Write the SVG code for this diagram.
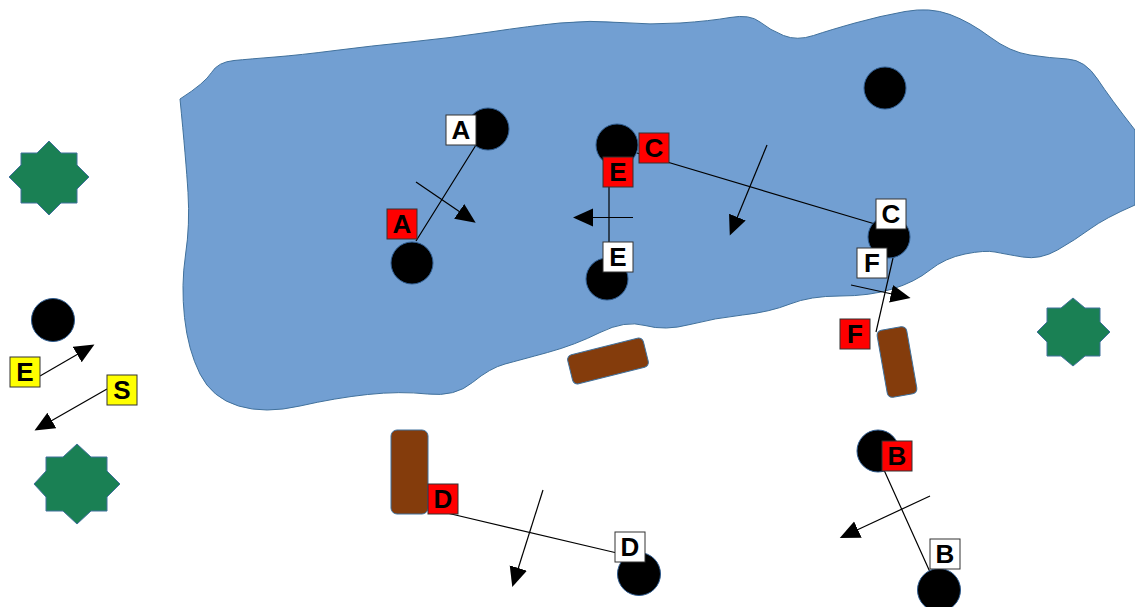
<svg xmlns="http://www.w3.org/2000/svg" width="1135" height="607" viewBox="0 0 1135 607">
<style>
.c{fill:#000;stroke:#2f5c8f;stroke-width:1}
.b{fill:#843c0c;stroke:#41719c;stroke-width:1}
.g{fill:#1a8054;stroke:#41719c;stroke-width:1}
.l{stroke:#000;stroke-width:1.2;fill:none}
.a{stroke:#000;stroke-width:1.2;fill:none;marker-end:url(#m)}
.w,.r,.y{stroke:#333;stroke-width:1}
.w{fill:#fff}.r{fill:#f00}.y{fill:#ff0}
text{font-family:"Liberation Sans",Arial,sans-serif;font-size:26px;font-weight:bold;text-anchor:middle;fill:#000}
</style>
<defs>
<marker id="m" markerUnits="userSpaceOnUse" markerWidth="22" markerHeight="20" refX="1" refY="9" orient="auto"><path d="M0 0L20 9L0 18Z" fill="#000"/></marker>
</defs>
<g id="lake"><path d="M180 99Q205 83 211.500 72.500Q218 62 234 60.500Q250 59 275 57Q300 55 335 50.500Q370 46 410 42Q450 38 490 32Q530 26 560 23Q590 20 620 22.500Q650 25 680 23Q710 21 730 17.500Q750 14 760 22Q770 30 783.500 35.500Q797 41 813.500 35.500Q830 30 855 23Q880 16 905 11.500Q930 7 950 14.500Q970 22 990 37Q1010 52 1030 55Q1050 58 1067.500 59Q1085 60 1097.500 79Q1110 98 1135 130L1135 205Q1105 218 1090 229Q1075 240 1057.500 250Q1040 260 1022.500 257Q1005 254 995 252Q985 250 965 254Q945 258 930 270Q915 282 892.500 289Q870 296 840 296Q810 296 790 304Q770 312 742.500 315Q715 318 690 324.500Q665 331 645 325.500Q625 320 600 332.500Q575 345 547.500 352.500Q520 360 505 364Q490 368 472.500 382.500Q455 397 427.500 394Q400 391 367.500 394.500Q335 398 300 406Q265 414 238.500 406Q212 398 200 374Q188 350 184.500 317.500Q181 285 185.500 255Q190 225 188 192.500Q186 160 180 99Z" fill="#729fd2" stroke="#41719c" stroke-width="1"/></g>
<g id="connectors">
<path class="l" d="M476 145L416 241M637 153L875 224M609 172V258M893 258L876 332M884 470L930 572M447 513L617 553"/>
<path class="a" d="M416 182L460 212"/>
<path class="a" d="M633 217.500H592"/>
<path class="a" d="M767 145L737 218"/>
<path class="a" d="M851 285L892 294"/>
<path class="a" d="M930 496L857 530"/>
<path class="a" d="M543 490L518 569"/>
<path class="a" d="M40 376L78 354"/>
<path class="a" d="M107 389L51 421"/>
</g>
<g id="c1"><circle class="c" cx="488" cy="129" r="21"/></g>
<g id="c2"><circle class="c" cx="617" cy="145" r="21"/></g>
<g id="c3"><circle class="c" cx="885" cy="88" r="21"/></g>
<g id="c4"><circle class="c" cx="889" cy="237" r="21"/></g>
<g id="c5"><circle class="c" cx="412" cy="263" r="21"/></g>
<g id="c6"><circle class="c" cx="607" cy="279" r="21"/></g>
<g id="c7"><circle class="c" cx="53" cy="320" r="21.500"/></g>
<g id="c8"><circle class="c" cx="878" cy="451" r="21"/></g>
<g id="c9"><circle class="c" cx="639" cy="574" r="21.500"/></g>
<g id="c10"><circle class="c" cx="939" cy="590" r="21.500"/></g>
<g id="b1"><rect class="b" x="-39" y="-15" width="78" height="30" rx="5" transform="translate(608 361) rotate(-14)"/></g>
<g id="b2"><rect class="b" x="-15" y="-34" width="30" height="68" rx="5" transform="translate(897 362) rotate(-10)"/></g>
<g id="b3"><rect class="b" x="391" y="430" width="37" height="84" rx="6"/></g>
<g id="s1"><path class="g" d="M49 141L61 153H77V165L89 177L77 189V203H61L49 215L37 203H21V189L9 177L21 165V153H37Z"/></g>
<g id="s2"><path class="g" d="M1073 298L1085 308H1100V322L1110 332L1100 342V356H1085L1073 366L1061 356H1047V342L1037 332L1047 322V308H1061Z"/></g>
<g id="s3"><path class="g" d="M77 444L91 457H107V471L120 484L107 497V511H91L77 524L63 511H46V497L34 484L46 471V457H63Z"/></g>
<g id="lA"><rect class="w" x="446" y="115" width="30" height="30"/><text x="461" y="139">A</text></g>
<g id="lAr"><rect class="r" x="387" y="209" width="30" height="30"/><text x="402" y="233">A</text></g>
<g id="lCr"><rect class="r" x="639" y="133" width="30" height="30"/><text x="654" y="157">C</text></g>
<g id="lEr"><rect class="r" x="603" y="157" width="30" height="30"/><text x="618" y="181">E</text></g>
<g id="lE"><rect class="w" x="603" y="242" width="30" height="30"/><text x="618" y="266">E</text></g>
<g id="lC"><rect class="w" x="876" y="199" width="30" height="30"/><text x="891" y="223">C</text></g>
<g id="lF"><rect class="w" x="857" y="248" width="30" height="30"/><text x="872" y="272">F</text></g>
<g id="lFr"><rect class="r" x="840" y="319" width="30" height="30"/><text x="855" y="343">F</text></g>
<g id="lBr"><rect class="r" x="882" y="441" width="30" height="30"/><text x="897" y="465">B</text></g>
<g id="lB"><rect class="w" x="930" y="539" width="30" height="30"/><text x="945" y="563">B</text></g>
<g id="lDr"><rect class="r" x="428" y="484" width="30" height="30"/><text x="443" y="508">D</text></g>
<g id="lD"><rect class="w" x="615" y="532" width="30" height="30"/><text x="630" y="556">D</text></g>
<g id="lEy"><rect class="y" x="10" y="357" width="30" height="30"/><text x="25" y="381">E</text></g>
<g id="lSy"><rect class="y" x="107" y="375" width="30" height="30"/><text x="122" y="399">S</text></g>
</svg>
